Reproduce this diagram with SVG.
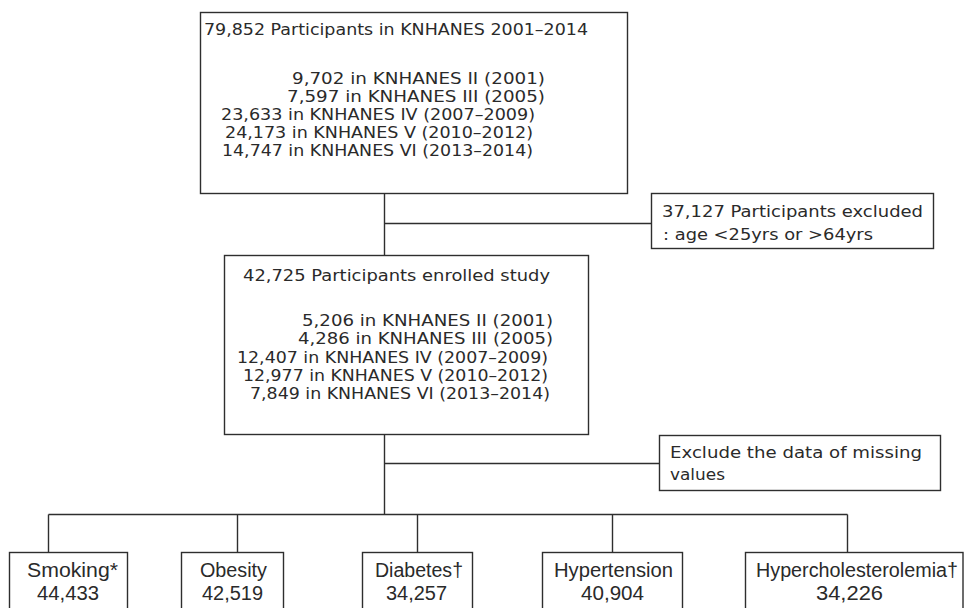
<svg xmlns="http://www.w3.org/2000/svg" width="964" height="608" viewBox="0 0 964 608">
<style>
.box{fill:#fff;stroke:#2e2e2e;stroke-width:1.4}
.con{fill:none;stroke:#2e2e2e;stroke-width:1.4}
.t{font-family:"DejaVu Sans","Liberation Sans",sans-serif;font-size:16.5px;fill:#2a2a2a}
.b{font-family:"Liberation Sans","DejaVu Sans",sans-serif;font-size:20px;fill:#2a2a2a}
</style>
<rect width="964" height="608" fill="#fff"/>
<g id="connectors">
<path class="con" d="M384.5 193.5V255.5M384.5 223.5H651.5M384.5 434.5V514.5M384.5 463.5H659.5M48.5 514.5H847.5M48.5 514.5V552.5M237.5 514.5V552.5M417.5 514.5V552.5M612.5 514.5V552.5M847.5 514.5V552.5"/>
</g>
<g id="n_total">
<rect class="box" x="200.5" y="12.5" width="427" height="181"/>
<text class="t" x="204" y="35" textLength="384" lengthAdjust="spacingAndGlyphs">79,852 Participants in KNHANES 2001–2014</text>
<text class="t" x="292" y="84" textLength="253" lengthAdjust="spacingAndGlyphs">9,702 in KNHANES II (2001)</text>
<text class="t" x="287" y="102" textLength="258" lengthAdjust="spacingAndGlyphs">7,597 in KNHANES III (2005)</text>
<text class="t" x="221" y="120" textLength="314" lengthAdjust="spacingAndGlyphs">23,633 in KNHANES IV (2007–2009)</text>
<text class="t" x="225" y="138" textLength="308" lengthAdjust="spacingAndGlyphs">24,173 in KNHANES V (2010–2012)</text>
<text class="t" x="222" y="156" textLength="311" lengthAdjust="spacingAndGlyphs">14,747 in KNHANES VI (2013–2014)</text>
</g>
<g id="n_excl_age">
<rect class="box" x="651.5" y="193.5" width="282" height="55"/>
<text class="t" x="662" y="217" textLength="261" lengthAdjust="spacingAndGlyphs">37,127 Participants excluded</text>
<text class="t" x="663" y="240" textLength="210" lengthAdjust="spacingAndGlyphs">: age &lt;25yrs or &gt;64yrs</text>
</g>
<g id="n_enrolled">
<rect class="box" x="224.5" y="255.5" width="364" height="179"/>
<text class="t" x="243" y="281" textLength="307" lengthAdjust="spacingAndGlyphs">42,725 Participants enrolled study</text>
<text class="t" x="302" y="326" textLength="251" lengthAdjust="spacingAndGlyphs">5,206 in KNHANES II (2001)</text>
<text class="t" x="298" y="344" textLength="255" lengthAdjust="spacingAndGlyphs">4,286 in KNHANES III (2005)</text>
<text class="t" x="237" y="362.5" textLength="311" lengthAdjust="spacingAndGlyphs">12,407 in KNHANES IV (2007–2009)</text>
<text class="t" x="243" y="381" textLength="305" lengthAdjust="spacingAndGlyphs">12,977 in KNHANES V (2010–2012)</text>
<text class="t" x="250" y="399" textLength="300" lengthAdjust="spacingAndGlyphs">7,849 in KNHANES VI (2013–2014)</text>
</g>
<g id="n_excl_missing">
<rect class="box" x="659.5" y="435.5" width="281" height="55"/>
<text class="t" x="670" y="458" textLength="252" lengthAdjust="spacingAndGlyphs">Exclude the data of missing</text>
<text class="t" x="670" y="480" textLength="55" lengthAdjust="spacingAndGlyphs">values</text>
</g>
<g id="n_smoking">
<rect class="box" x="9.5" y="552.5" width="118" height="80"/>
<text class="b" x="27" y="577" textLength="91" lengthAdjust="spacingAndGlyphs">Smoking*</text>
<text class="b" x="37" y="600" textLength="62" lengthAdjust="spacingAndGlyphs">44,433</text>
</g>
<g id="n_obesity">
<rect class="box" x="181.5" y="552.5" width="102" height="80"/>
<text class="b" x="200" y="577" textLength="67" lengthAdjust="spacingAndGlyphs">Obesity</text>
<text class="b" x="202" y="600" textLength="61" lengthAdjust="spacingAndGlyphs">42,519</text>
</g>
<g id="n_diabetes">
<rect class="box" x="362.5" y="552.5" width="110" height="80"/>
<text class="b" x="375" y="577" textLength="88" lengthAdjust="spacingAndGlyphs">Diabetes†</text>
<text class="b" x="386" y="600" textLength="61" lengthAdjust="spacingAndGlyphs">34,257</text>
</g>
<g id="n_hypertension">
<rect class="box" x="542.5" y="552.5" width="140" height="80"/>
<text class="b" x="554" y="577" textLength="119" lengthAdjust="spacingAndGlyphs">Hypertension</text>
<text class="b" x="581" y="600" textLength="63" lengthAdjust="spacingAndGlyphs">40,904</text>
</g>
<g id="n_hyperchol">
<rect class="box" x="745.5" y="552.5" width="217.5" height="80"/>
<text class="b" x="756" y="577" textLength="202" lengthAdjust="spacingAndGlyphs">Hypercholesterolemia†</text>
<text class="b" x="816" y="600" textLength="67" lengthAdjust="spacingAndGlyphs">34,226</text>
</g>
</svg>
